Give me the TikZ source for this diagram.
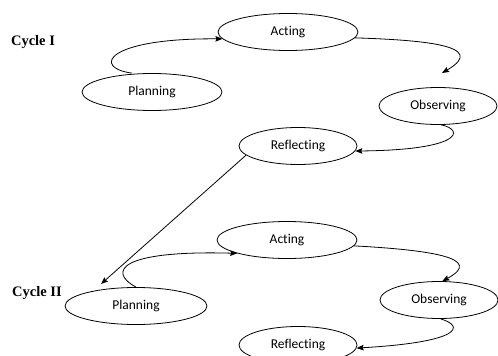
\documentclass[tikz,border=0pt]{standalone}
\usepackage{fontspec}
\setmainfont{Liberation Serif}
\newfontfamily\calfont[Ligatures=NoCommon]{Carlito}
\usetikzlibrary{shapes.geometric,arrows.meta}
\tikzset{
  stage/.style={draw, ellipse, line width=0.8pt, inner sep=0pt,
    minimum width=118pt, minimum height=37pt,
    font=\calfont\fontsize{13.5}{16}\selectfont},
  wide/.style={minimum width=140pt},
  cyclelbl/.style={font=\bfseries\fontsize{14.5}{17}\selectfont, inner sep=0pt},
  flow/.style={line width=0.8pt, -{Stealth[length=7pt,width=5.5pt,inset=1pt]}}
}
\begin{document}
\begin{tikzpicture}[x=1pt,y=-1pt]
\useasboundingbox (0,0) rectangle (498,356);
% cycle I
\node[cyclelbl] (c1) at (33,42) {Cycle I};
\node[stage,wide] (p1) at (152,92) {Planning};
\node[stage,wide] (a1) at (288,32) {Acting};
\node[stage] (o1) at (438,106) {Observing};
\node[stage] (r1) at (298,146) {Reflecting};
% cycle II
\node[cyclelbl] (c2) at (37,293) {Cycle II};
\node[stage,wide,minimum width=142pt] (p2) at (136,306) {Planning};
\node[stage,wide] (a2) at (287,240) {Acting};
\node[stage] (o2) at (439,300) {Observing};
\node[stage] (r2) at (298,345) {Reflecting};
% free ends
\coordinate (o1in) at (442,73);
\coordinate (p2in) at (101,284);
% connectors cycle I
\draw[flow] ([xshift=-20pt]p1.north) .. controls (92,68) and (105,38) .. (a1.186);
\draw[flow] (a1.-5) .. controls (420,40) and (490,45) .. (o1in);
\draw[flow] (o1.-80) .. controls (465,130) and (462,150) .. (r1.-5);
\draw[flow] (r1.190) -- (p2in);
% connectors cycle II
\draw[flow] (p2.north) .. controls (108,272) and (118,250) .. (a2.195);
\draw[flow] (a2.-5) .. controls (430,250) and (485,258) .. (o2.80);
\draw[flow] (o2.-85) .. controls (465,326) and (462,342) .. (r2.-3);
\end{tikzpicture}
\end{document}
